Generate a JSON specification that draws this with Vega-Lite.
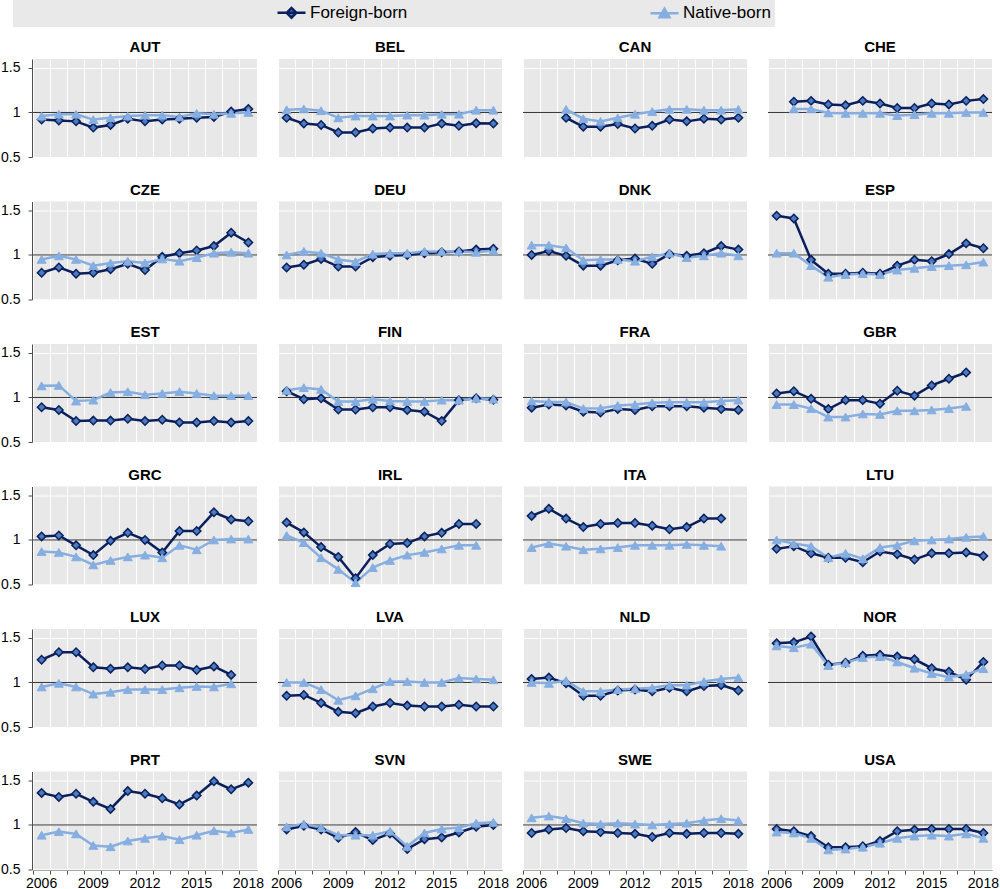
{
"$schema": "https://vega.github.io/schema/vega-lite/v6.json",
"padding": 0,
"background": "white",
"data": {"values": [
{"c":"AUT","y":2006,"g":"Foreign-born","v":0.92},{"c":"AUT","y":2007,"g":"Foreign-born","v":0.91},{"c":"AUT","y":2008,"g":"Foreign-born","v":0.90},{"c":"AUT","y":2009,"g":"Foreign-born","v":0.83},{"c":"AUT","y":2010,"g":"Foreign-born","v":0.86},{"c":"AUT","y":2011,"g":"Foreign-born","v":0.93},{"c":"AUT","y":2012,"g":"Foreign-born","v":0.90},{"c":"AUT","y":2013,"g":"Foreign-born","v":0.92},{"c":"AUT","y":2014,"g":"Foreign-born","v":0.93},{"c":"AUT","y":2015,"g":"Foreign-born","v":0.94},{"c":"AUT","y":2016,"g":"Foreign-born","v":0.95},{"c":"AUT","y":2017,"g":"Foreign-born","v":1.01},{"c":"AUT","y":2018,"g":"Foreign-born","v":1.04},
{"c":"AUT","y":2006,"g":"Native-born","v":0.96},{"c":"AUT","y":2007,"g":"Native-born","v":0.98},{"c":"AUT","y":2008,"g":"Native-born","v":0.98},{"c":"AUT","y":2009,"g":"Native-born","v":0.92},{"c":"AUT","y":2010,"g":"Native-born","v":0.94},{"c":"AUT","y":2011,"g":"Native-born","v":0.96},{"c":"AUT","y":2012,"g":"Native-born","v":0.97},{"c":"AUT","y":2013,"g":"Native-born","v":0.97},{"c":"AUT","y":2014,"g":"Native-born","v":0.95},{"c":"AUT","y":2015,"g":"Native-born","v":0.99},{"c":"AUT","y":2016,"g":"Native-born","v":0.98},{"c":"AUT","y":2017,"g":"Native-born","v":0.99},{"c":"AUT","y":2018,"g":"Native-born","v":1.00},
{"c":"BEL","y":2006,"g":"Foreign-born","v":0.94},{"c":"BEL","y":2007,"g":"Foreign-born","v":0.875},{"c":"BEL","y":2008,"g":"Foreign-born","v":0.86},{"c":"BEL","y":2009,"g":"Foreign-born","v":0.775},{"c":"BEL","y":2010,"g":"Foreign-born","v":0.775},{"c":"BEL","y":2011,"g":"Foreign-born","v":0.82},{"c":"BEL","y":2012,"g":"Foreign-born","v":0.83},{"c":"BEL","y":2013,"g":"Foreign-born","v":0.83},{"c":"BEL","y":2014,"g":"Foreign-born","v":0.83},{"c":"BEL","y":2015,"g":"Foreign-born","v":0.875},{"c":"BEL","y":2016,"g":"Foreign-born","v":0.85},{"c":"BEL","y":2017,"g":"Foreign-born","v":0.88},{"c":"BEL","y":2018,"g":"Foreign-born","v":0.875},
{"c":"BEL","y":2006,"g":"Native-born","v":1.03},{"c":"BEL","y":2007,"g":"Native-born","v":1.04},{"c":"BEL","y":2008,"g":"Native-born","v":1.02},{"c":"BEL","y":2009,"g":"Native-born","v":0.94},{"c":"BEL","y":2010,"g":"Native-born","v":0.96},{"c":"BEL","y":2011,"g":"Native-born","v":0.96},{"c":"BEL","y":2012,"g":"Native-born","v":0.96},{"c":"BEL","y":2013,"g":"Native-born","v":0.97},{"c":"BEL","y":2014,"g":"Native-born","v":0.97},{"c":"BEL","y":2015,"g":"Native-born","v":0.98},{"c":"BEL","y":2016,"g":"Native-born","v":0.98},{"c":"BEL","y":2017,"g":"Native-born","v":1.025},{"c":"BEL","y":2018,"g":"Native-born","v":1.025},
{"c":"CAN","y":2008,"g":"Foreign-born","v":0.94},{"c":"CAN","y":2009,"g":"Foreign-born","v":0.84},{"c":"CAN","y":2010,"g":"Foreign-born","v":0.84},{"c":"CAN","y":2011,"g":"Foreign-born","v":0.87},{"c":"CAN","y":2012,"g":"Foreign-born","v":0.82},{"c":"CAN","y":2013,"g":"Foreign-born","v":0.85},{"c":"CAN","y":2014,"g":"Foreign-born","v":0.92},{"c":"CAN","y":2015,"g":"Foreign-born","v":0.90},{"c":"CAN","y":2016,"g":"Foreign-born","v":0.93},{"c":"CAN","y":2017,"g":"Foreign-born","v":0.92},{"c":"CAN","y":2018,"g":"Foreign-born","v":0.94},
{"c":"CAN","y":2008,"g":"Native-born","v":1.035},{"c":"CAN","y":2009,"g":"Native-born","v":0.93},{"c":"CAN","y":2010,"g":"Native-born","v":0.90},{"c":"CAN","y":2011,"g":"Native-born","v":0.94},{"c":"CAN","y":2012,"g":"Native-born","v":0.98},{"c":"CAN","y":2013,"g":"Native-born","v":1.01},{"c":"CAN","y":2014,"g":"Native-born","v":1.035},{"c":"CAN","y":2015,"g":"Native-born","v":1.035},{"c":"CAN","y":2016,"g":"Native-born","v":1.025},{"c":"CAN","y":2017,"g":"Native-born","v":1.025},{"c":"CAN","y":2018,"g":"Native-born","v":1.035},
{"c":"CHE","y":2007,"g":"Foreign-born","v":1.12},{"c":"CHE","y":2008,"g":"Foreign-born","v":1.13},{"c":"CHE","y":2009,"g":"Foreign-born","v":1.09},{"c":"CHE","y":2010,"g":"Foreign-born","v":1.08},{"c":"CHE","y":2011,"g":"Foreign-born","v":1.13},{"c":"CHE","y":2012,"g":"Foreign-born","v":1.10},{"c":"CHE","y":2013,"g":"Foreign-born","v":1.05},{"c":"CHE","y":2014,"g":"Foreign-born","v":1.05},{"c":"CHE","y":2015,"g":"Foreign-born","v":1.10},{"c":"CHE","y":2016,"g":"Foreign-born","v":1.09},{"c":"CHE","y":2017,"g":"Foreign-born","v":1.13},{"c":"CHE","y":2018,"g":"Foreign-born","v":1.15},
{"c":"CHE","y":2007,"g":"Native-born","v":1.04},{"c":"CHE","y":2008,"g":"Native-born","v":1.04},{"c":"CHE","y":2009,"g":"Native-born","v":0.995},{"c":"CHE","y":2010,"g":"Native-born","v":0.99},{"c":"CHE","y":2011,"g":"Native-born","v":0.99},{"c":"CHE","y":2012,"g":"Native-born","v":0.99},{"c":"CHE","y":2013,"g":"Native-born","v":0.965},{"c":"CHE","y":2014,"g":"Native-born","v":0.975},{"c":"CHE","y":2015,"g":"Native-born","v":0.99},{"c":"CHE","y":2016,"g":"Native-born","v":0.99},{"c":"CHE","y":2017,"g":"Native-born","v":1.0},{"c":"CHE","y":2018,"g":"Native-born","v":1.0},
{"c":"CZE","y":2006,"g":"Foreign-born","v":0.80},{"c":"CZE","y":2007,"g":"Foreign-born","v":0.86},{"c":"CZE","y":2008,"g":"Foreign-born","v":0.79},{"c":"CZE","y":2009,"g":"Foreign-born","v":0.80},{"c":"CZE","y":2010,"g":"Foreign-born","v":0.84},{"c":"CZE","y":2011,"g":"Foreign-born","v":0.90},{"c":"CZE","y":2012,"g":"Foreign-born","v":0.83},{"c":"CZE","y":2013,"g":"Foreign-born","v":0.98},{"c":"CZE","y":2014,"g":"Foreign-born","v":1.02},{"c":"CZE","y":2015,"g":"Foreign-born","v":1.05},{"c":"CZE","y":2016,"g":"Foreign-born","v":1.10},{"c":"CZE","y":2017,"g":"Foreign-born","v":1.25},{"c":"CZE","y":2018,"g":"Foreign-born","v":1.14},
{"c":"CZE","y":2006,"g":"Native-born","v":0.95},{"c":"CZE","y":2007,"g":"Native-born","v":0.99},{"c":"CZE","y":2008,"g":"Native-born","v":0.95},{"c":"CZE","y":2009,"g":"Native-born","v":0.88},{"c":"CZE","y":2010,"g":"Native-born","v":0.91},{"c":"CZE","y":2011,"g":"Native-born","v":0.93},{"c":"CZE","y":2012,"g":"Native-born","v":0.91},{"c":"CZE","y":2013,"g":"Native-born","v":0.955},{"c":"CZE","y":2014,"g":"Native-born","v":0.93},{"c":"CZE","y":2015,"g":"Native-born","v":0.97},{"c":"CZE","y":2016,"g":"Native-born","v":1.02},{"c":"CZE","y":2017,"g":"Native-born","v":1.03},{"c":"CZE","y":2018,"g":"Native-born","v":1.02},
{"c":"DEU","y":2006,"g":"Foreign-born","v":0.86},{"c":"DEU","y":2007,"g":"Foreign-born","v":0.89},{"c":"DEU","y":2008,"g":"Foreign-born","v":0.955},{"c":"DEU","y":2009,"g":"Foreign-born","v":0.87},{"c":"DEU","y":2010,"g":"Foreign-born","v":0.87},{"c":"DEU","y":2011,"g":"Foreign-born","v":0.975},{"c":"DEU","y":2012,"g":"Foreign-born","v":0.99},{"c":"DEU","y":2013,"g":"Foreign-born","v":1.0},{"c":"DEU","y":2014,"g":"Foreign-born","v":1.02},{"c":"DEU","y":2015,"g":"Foreign-born","v":1.03},{"c":"DEU","y":2016,"g":"Foreign-born","v":1.04},{"c":"DEU","y":2017,"g":"Foreign-born","v":1.06},{"c":"DEU","y":2018,"g":"Foreign-born","v":1.07},
{"c":"DEU","y":2006,"g":"Native-born","v":1.0},{"c":"DEU","y":2007,"g":"Native-born","v":1.04},{"c":"DEU","y":2008,"g":"Native-born","v":1.02},{"c":"DEU","y":2009,"g":"Native-born","v":0.95},{"c":"DEU","y":2010,"g":"Native-born","v":0.925},{"c":"DEU","y":2011,"g":"Native-born","v":1.01},{"c":"DEU","y":2012,"g":"Native-born","v":1.02},{"c":"DEU","y":2013,"g":"Native-born","v":1.02},{"c":"DEU","y":2014,"g":"Native-born","v":1.04},{"c":"DEU","y":2015,"g":"Native-born","v":1.04},{"c":"DEU","y":2016,"g":"Native-born","v":1.04},{"c":"DEU","y":2017,"g":"Native-born","v":1.03},{"c":"DEU","y":2018,"g":"Native-born","v":1.05},
{"c":"DNK","y":2006,"g":"Foreign-born","v":1.0},{"c":"DNK","y":2007,"g":"Foreign-born","v":1.045},{"c":"DNK","y":2008,"g":"Foreign-born","v":0.99},{"c":"DNK","y":2009,"g":"Foreign-born","v":0.88},{"c":"DNK","y":2010,"g":"Foreign-born","v":0.88},{"c":"DNK","y":2011,"g":"Foreign-born","v":0.94},{"c":"DNK","y":2012,"g":"Foreign-born","v":0.96},{"c":"DNK","y":2013,"g":"Foreign-born","v":0.90},{"c":"DNK","y":2014,"g":"Foreign-born","v":1.01},{"c":"DNK","y":2015,"g":"Foreign-born","v":0.99},{"c":"DNK","y":2016,"g":"Foreign-born","v":1.02},{"c":"DNK","y":2017,"g":"Foreign-born","v":1.10},{"c":"DNK","y":2018,"g":"Foreign-born","v":1.06},
{"c":"DNK","y":2006,"g":"Native-born","v":1.11},{"c":"DNK","y":2007,"g":"Native-born","v":1.11},{"c":"DNK","y":2008,"g":"Native-born","v":1.08},{"c":"DNK","y":2009,"g":"Native-born","v":0.94},{"c":"DNK","y":2010,"g":"Native-born","v":0.95},{"c":"DNK","y":2011,"g":"Native-born","v":0.95},{"c":"DNK","y":2012,"g":"Native-born","v":0.93},{"c":"DNK","y":2013,"g":"Native-born","v":0.98},{"c":"DNK","y":2014,"g":"Native-born","v":1.02},{"c":"DNK","y":2015,"g":"Native-born","v":0.97},{"c":"DNK","y":2016,"g":"Native-born","v":0.99},{"c":"DNK","y":2017,"g":"Native-born","v":1.02},{"c":"DNK","y":2018,"g":"Native-born","v":0.99},
{"c":"ESP","y":2006,"g":"Foreign-born","v":1.44},{"c":"ESP","y":2007,"g":"Foreign-born","v":1.41},{"c":"ESP","y":2008,"g":"Foreign-born","v":0.945},{"c":"ESP","y":2009,"g":"Foreign-born","v":0.79},{"c":"ESP","y":2010,"g":"Foreign-born","v":0.79},{"c":"ESP","y":2011,"g":"Foreign-born","v":0.80},{"c":"ESP","y":2012,"g":"Foreign-born","v":0.79},{"c":"ESP","y":2013,"g":"Foreign-born","v":0.88},{"c":"ESP","y":2014,"g":"Foreign-born","v":0.945},{"c":"ESP","y":2015,"g":"Foreign-born","v":0.93},{"c":"ESP","y":2016,"g":"Foreign-born","v":1.01},{"c":"ESP","y":2017,"g":"Foreign-born","v":1.13},{"c":"ESP","y":2018,"g":"Foreign-born","v":1.075},
{"c":"ESP","y":2006,"g":"Native-born","v":1.02},{"c":"ESP","y":2007,"g":"Native-born","v":1.02},{"c":"ESP","y":2008,"g":"Native-born","v":0.88},{"c":"ESP","y":2009,"g":"Native-born","v":0.75},{"c":"ESP","y":2010,"g":"Native-born","v":0.78},{"c":"ESP","y":2011,"g":"Native-born","v":0.79},{"c":"ESP","y":2012,"g":"Native-born","v":0.78},{"c":"ESP","y":2013,"g":"Native-born","v":0.83},{"c":"ESP","y":2014,"g":"Native-born","v":0.85},{"c":"ESP","y":2015,"g":"Native-born","v":0.87},{"c":"ESP","y":2016,"g":"Native-born","v":0.88},{"c":"ESP","y":2017,"g":"Native-born","v":0.89},{"c":"ESP","y":2018,"g":"Native-born","v":0.92},
{"c":"EST","y":2006,"g":"Foreign-born","v":0.89},{"c":"EST","y":2007,"g":"Foreign-born","v":0.86},{"c":"EST","y":2008,"g":"Foreign-born","v":0.735},{"c":"EST","y":2009,"g":"Foreign-born","v":0.74},{"c":"EST","y":2010,"g":"Foreign-born","v":0.74},{"c":"EST","y":2011,"g":"Foreign-born","v":0.76},{"c":"EST","y":2012,"g":"Foreign-born","v":0.735},{"c":"EST","y":2013,"g":"Foreign-born","v":0.75},{"c":"EST","y":2014,"g":"Foreign-born","v":0.72},{"c":"EST","y":2015,"g":"Foreign-born","v":0.72},{"c":"EST","y":2016,"g":"Foreign-born","v":0.735},{"c":"EST","y":2017,"g":"Foreign-born","v":0.72},{"c":"EST","y":2018,"g":"Foreign-born","v":0.735},
{"c":"EST","y":2006,"g":"Native-born","v":1.13},{"c":"EST","y":2007,"g":"Native-born","v":1.135},{"c":"EST","y":2008,"g":"Native-born","v":0.96},{"c":"EST","y":2009,"g":"Native-born","v":0.97},{"c":"EST","y":2010,"g":"Native-born","v":1.055},{"c":"EST","y":2011,"g":"Native-born","v":1.065},{"c":"EST","y":2012,"g":"Native-born","v":1.03},{"c":"EST","y":2013,"g":"Native-born","v":1.045},{"c":"EST","y":2014,"g":"Native-born","v":1.065},{"c":"EST","y":2015,"g":"Native-born","v":1.045},{"c":"EST","y":2016,"g":"Native-born","v":1.02},{"c":"EST","y":2017,"g":"Native-born","v":1.02},{"c":"EST","y":2018,"g":"Native-born","v":1.02},
{"c":"FIN","y":2006,"g":"Foreign-born","v":1.07},{"c":"FIN","y":2007,"g":"Foreign-born","v":0.98},{"c":"FIN","y":2008,"g":"Foreign-born","v":0.99},{"c":"FIN","y":2009,"g":"Foreign-born","v":0.865},{"c":"FIN","y":2010,"g":"Foreign-born","v":0.865},{"c":"FIN","y":2011,"g":"Foreign-born","v":0.89},{"c":"FIN","y":2012,"g":"Foreign-born","v":0.89},{"c":"FIN","y":2013,"g":"Foreign-born","v":0.86},{"c":"FIN","y":2014,"g":"Foreign-born","v":0.84},{"c":"FIN","y":2015,"g":"Foreign-born","v":0.735},{"c":"FIN","y":2016,"g":"Foreign-born","v":0.97},{"c":"FIN","y":2017,"g":"Foreign-born","v":0.99},{"c":"FIN","y":2018,"g":"Foreign-born","v":0.975},
{"c":"FIN","y":2006,"g":"Native-born","v":1.08},{"c":"FIN","y":2007,"g":"Native-born","v":1.11},{"c":"FIN","y":2008,"g":"Native-born","v":1.09},{"c":"FIN","y":2009,"g":"Native-born","v":0.955},{"c":"FIN","y":2010,"g":"Native-born","v":0.955},{"c":"FIN","y":2011,"g":"Native-born","v":0.98},{"c":"FIN","y":2012,"g":"Native-born","v":0.96},{"c":"FIN","y":2013,"g":"Native-born","v":0.955},{"c":"FIN","y":2014,"g":"Native-born","v":0.955},{"c":"FIN","y":2015,"g":"Native-born","v":0.97},{"c":"FIN","y":2016,"g":"Native-born","v":0.97},{"c":"FIN","y":2017,"g":"Native-born","v":0.99},{"c":"FIN","y":2018,"g":"Native-born","v":0.98},
{"c":"FRA","y":2006,"g":"Foreign-born","v":0.885},{"c":"FRA","y":2007,"g":"Foreign-born","v":0.92},{"c":"FRA","y":2008,"g":"Foreign-born","v":0.91},{"c":"FRA","y":2009,"g":"Foreign-born","v":0.84},{"c":"FRA","y":2010,"g":"Foreign-born","v":0.83},{"c":"FRA","y":2011,"g":"Foreign-born","v":0.87},{"c":"FRA","y":2012,"g":"Foreign-born","v":0.86},{"c":"FRA","y":2013,"g":"Foreign-born","v":0.90},{"c":"FRA","y":2014,"g":"Foreign-born","v":0.90},{"c":"FRA","y":2015,"g":"Foreign-born","v":0.90},{"c":"FRA","y":2016,"g":"Foreign-born","v":0.885},{"c":"FRA","y":2017,"g":"Foreign-born","v":0.87},{"c":"FRA","y":2018,"g":"Foreign-born","v":0.86},
{"c":"FRA","y":2006,"g":"Native-born","v":0.96},{"c":"FRA","y":2007,"g":"Native-born","v":0.95},{"c":"FRA","y":2008,"g":"Native-born","v":0.95},{"c":"FRA","y":2009,"g":"Native-born","v":0.875},{"c":"FRA","y":2010,"g":"Native-born","v":0.88},{"c":"FRA","y":2011,"g":"Native-born","v":0.91},{"c":"FRA","y":2012,"g":"Native-born","v":0.92},{"c":"FRA","y":2013,"g":"Native-born","v":0.94},{"c":"FRA","y":2014,"g":"Native-born","v":0.945},{"c":"FRA","y":2015,"g":"Native-born","v":0.945},{"c":"FRA","y":2016,"g":"Native-born","v":0.945},{"c":"FRA","y":2017,"g":"Native-born","v":0.96},{"c":"FRA","y":2018,"g":"Native-born","v":0.97},
{"c":"GBR","y":2006,"g":"Foreign-born","v":1.045},{"c":"GBR","y":2007,"g":"Foreign-born","v":1.07},{"c":"GBR","y":2008,"g":"Foreign-born","v":0.985},{"c":"GBR","y":2009,"g":"Foreign-born","v":0.87},{"c":"GBR","y":2010,"g":"Foreign-born","v":0.97},{"c":"GBR","y":2011,"g":"Foreign-born","v":0.97},{"c":"GBR","y":2012,"g":"Foreign-born","v":0.93},{"c":"GBR","y":2013,"g":"Foreign-born","v":1.075},{"c":"GBR","y":2014,"g":"Foreign-born","v":1.02},{"c":"GBR","y":2015,"g":"Foreign-born","v":1.135},{"c":"GBR","y":2016,"g":"Foreign-born","v":1.21},{"c":"GBR","y":2017,"g":"Foreign-born","v":1.28},
{"c":"GBR","y":2006,"g":"Native-born","v":0.92},{"c":"GBR","y":2007,"g":"Native-born","v":0.92},{"c":"GBR","y":2008,"g":"Native-born","v":0.875},{"c":"GBR","y":2009,"g":"Native-born","v":0.78},{"c":"GBR","y":2010,"g":"Native-born","v":0.78},{"c":"GBR","y":2011,"g":"Native-born","v":0.815},{"c":"GBR","y":2012,"g":"Native-born","v":0.81},{"c":"GBR","y":2013,"g":"Native-born","v":0.85},{"c":"GBR","y":2014,"g":"Native-born","v":0.85},{"c":"GBR","y":2015,"g":"Native-born","v":0.86},{"c":"GBR","y":2016,"g":"Native-born","v":0.875},{"c":"GBR","y":2017,"g":"Native-born","v":0.90},
{"c":"GRC","y":2006,"g":"Foreign-born","v":1.04},{"c":"GRC","y":2007,"g":"Foreign-born","v":1.05},{"c":"GRC","y":2008,"g":"Foreign-born","v":0.94},{"c":"GRC","y":2009,"g":"Foreign-born","v":0.83},{"c":"GRC","y":2010,"g":"Foreign-born","v":0.99},{"c":"GRC","y":2011,"g":"Foreign-born","v":1.08},{"c":"GRC","y":2012,"g":"Foreign-born","v":1.0},{"c":"GRC","y":2013,"g":"Foreign-born","v":0.86},{"c":"GRC","y":2014,"g":"Foreign-born","v":1.10},{"c":"GRC","y":2015,"g":"Foreign-born","v":1.10},{"c":"GRC","y":2016,"g":"Foreign-born","v":1.31},{"c":"GRC","y":2017,"g":"Foreign-born","v":1.23},{"c":"GRC","y":2018,"g":"Foreign-born","v":1.21},
{"c":"GRC","y":2006,"g":"Native-born","v":0.87},{"c":"GRC","y":2007,"g":"Native-born","v":0.86},{"c":"GRC","y":2008,"g":"Native-born","v":0.81},{"c":"GRC","y":2009,"g":"Native-born","v":0.72},{"c":"GRC","y":2010,"g":"Native-born","v":0.77},{"c":"GRC","y":2011,"g":"Native-born","v":0.81},{"c":"GRC","y":2012,"g":"Native-born","v":0.83},{"c":"GRC","y":2013,"g":"Native-born","v":0.80},{"c":"GRC","y":2014,"g":"Native-born","v":0.94},{"c":"GRC","y":2015,"g":"Native-born","v":0.89},{"c":"GRC","y":2016,"g":"Native-born","v":1.0},{"c":"GRC","y":2017,"g":"Native-born","v":1.01},{"c":"GRC","y":2018,"g":"Native-born","v":1.01},
{"c":"IRL","y":2006,"g":"Foreign-born","v":1.195},{"c":"IRL","y":2007,"g":"Foreign-born","v":1.085},{"c":"IRL","y":2008,"g":"Foreign-born","v":0.92},{"c":"IRL","y":2009,"g":"Foreign-born","v":0.81},{"c":"IRL","y":2010,"g":"Foreign-born","v":0.57},{"c":"IRL","y":2011,"g":"Foreign-born","v":0.83},{"c":"IRL","y":2012,"g":"Foreign-born","v":0.955},{"c":"IRL","y":2013,"g":"Foreign-born","v":0.965},{"c":"IRL","y":2014,"g":"Foreign-born","v":1.04},{"c":"IRL","y":2015,"g":"Foreign-born","v":1.08},{"c":"IRL","y":2016,"g":"Foreign-born","v":1.18},{"c":"IRL","y":2017,"g":"Foreign-born","v":1.18},
{"c":"IRL","y":2006,"g":"Native-born","v":1.05},{"c":"IRL","y":2007,"g":"Native-born","v":0.97},{"c":"IRL","y":2008,"g":"Native-born","v":0.80},{"c":"IRL","y":2009,"g":"Native-born","v":0.67},{"c":"IRL","y":2010,"g":"Native-born","v":0.52},{"c":"IRL","y":2011,"g":"Native-born","v":0.69},{"c":"IRL","y":2012,"g":"Native-born","v":0.77},{"c":"IRL","y":2013,"g":"Native-born","v":0.83},{"c":"IRL","y":2014,"g":"Native-born","v":0.86},{"c":"IRL","y":2015,"g":"Native-born","v":0.90},{"c":"IRL","y":2016,"g":"Native-born","v":0.94},{"c":"IRL","y":2017,"g":"Native-born","v":0.94},
{"c":"ITA","y":2006,"g":"Foreign-born","v":1.27},{"c":"ITA","y":2007,"g":"Foreign-born","v":1.35},{"c":"ITA","y":2008,"g":"Foreign-born","v":1.24},{"c":"ITA","y":2009,"g":"Foreign-born","v":1.145},{"c":"ITA","y":2010,"g":"Foreign-born","v":1.18},{"c":"ITA","y":2011,"g":"Foreign-born","v":1.19},{"c":"ITA","y":2012,"g":"Foreign-born","v":1.19},{"c":"ITA","y":2013,"g":"Foreign-born","v":1.16},{"c":"ITA","y":2014,"g":"Foreign-born","v":1.12},{"c":"ITA","y":2015,"g":"Foreign-born","v":1.145},{"c":"ITA","y":2016,"g":"Foreign-born","v":1.24},{"c":"ITA","y":2017,"g":"Foreign-born","v":1.24},
{"c":"ITA","y":2006,"g":"Native-born","v":0.915},{"c":"ITA","y":2007,"g":"Native-born","v":0.96},{"c":"ITA","y":2008,"g":"Native-born","v":0.93},{"c":"ITA","y":2009,"g":"Native-born","v":0.89},{"c":"ITA","y":2010,"g":"Native-born","v":0.90},{"c":"ITA","y":2011,"g":"Native-born","v":0.915},{"c":"ITA","y":2012,"g":"Native-born","v":0.94},{"c":"ITA","y":2013,"g":"Native-born","v":0.94},{"c":"ITA","y":2014,"g":"Native-born","v":0.94},{"c":"ITA","y":2015,"g":"Native-born","v":0.95},{"c":"ITA","y":2016,"g":"Native-born","v":0.94},{"c":"ITA","y":2017,"g":"Native-born","v":0.93},
{"c":"LTU","y":2006,"g":"Foreign-born","v":0.90},{"c":"LTU","y":2007,"g":"Foreign-born","v":0.93},{"c":"LTU","y":2008,"g":"Foreign-born","v":0.85},{"c":"LTU","y":2009,"g":"Foreign-born","v":0.80},{"c":"LTU","y":2010,"g":"Foreign-born","v":0.80},{"c":"LTU","y":2011,"g":"Foreign-born","v":0.75},{"c":"LTU","y":2012,"g":"Foreign-born","v":0.87},{"c":"LTU","y":2013,"g":"Foreign-born","v":0.84},{"c":"LTU","y":2014,"g":"Foreign-born","v":0.78},{"c":"LTU","y":2015,"g":"Foreign-born","v":0.85},{"c":"LTU","y":2016,"g":"Foreign-born","v":0.85},{"c":"LTU","y":2017,"g":"Foreign-born","v":0.86},{"c":"LTU","y":2018,"g":"Foreign-born","v":0.82},
{"c":"LTU","y":2006,"g":"Native-born","v":1.0},{"c":"LTU","y":2007,"g":"Native-born","v":0.96},{"c":"LTU","y":2008,"g":"Native-born","v":0.93},{"c":"LTU","y":2009,"g":"Native-born","v":0.80},{"c":"LTU","y":2010,"g":"Native-born","v":0.85},{"c":"LTU","y":2011,"g":"Native-born","v":0.79},{"c":"LTU","y":2012,"g":"Native-born","v":0.915},{"c":"LTU","y":2013,"g":"Native-born","v":0.94},{"c":"LTU","y":2014,"g":"Native-born","v":0.99},{"c":"LTU","y":2015,"g":"Native-born","v":1.0},{"c":"LTU","y":2016,"g":"Native-born","v":1.01},{"c":"LTU","y":2017,"g":"Native-born","v":1.03},{"c":"LTU","y":2018,"g":"Native-born","v":1.04},
{"c":"LUX","y":2006,"g":"Foreign-born","v":1.255},{"c":"LUX","y":2007,"g":"Foreign-born","v":1.34},{"c":"LUX","y":2008,"g":"Foreign-born","v":1.34},{"c":"LUX","y":2009,"g":"Foreign-born","v":1.17},{"c":"LUX","y":2010,"g":"Foreign-born","v":1.155},{"c":"LUX","y":2011,"g":"Foreign-born","v":1.17},{"c":"LUX","y":2012,"g":"Foreign-born","v":1.15},{"c":"LUX","y":2013,"g":"Foreign-born","v":1.19},{"c":"LUX","y":2014,"g":"Foreign-born","v":1.19},{"c":"LUX","y":2015,"g":"Foreign-born","v":1.14},{"c":"LUX","y":2016,"g":"Foreign-born","v":1.18},{"c":"LUX","y":2017,"g":"Foreign-born","v":1.085},
{"c":"LUX","y":2006,"g":"Native-born","v":0.95},{"c":"LUX","y":2007,"g":"Native-born","v":0.99},{"c":"LUX","y":2008,"g":"Native-born","v":0.95},{"c":"LUX","y":2009,"g":"Native-born","v":0.87},{"c":"LUX","y":2010,"g":"Native-born","v":0.89},{"c":"LUX","y":2011,"g":"Native-born","v":0.92},{"c":"LUX","y":2012,"g":"Native-born","v":0.92},{"c":"LUX","y":2013,"g":"Native-born","v":0.92},{"c":"LUX","y":2014,"g":"Native-born","v":0.94},{"c":"LUX","y":2015,"g":"Native-born","v":0.955},{"c":"LUX","y":2016,"g":"Native-born","v":0.95},{"c":"LUX","y":2017,"g":"Native-born","v":0.985},
{"c":"LVA","y":2006,"g":"Foreign-born","v":0.85},{"c":"LVA","y":2007,"g":"Foreign-born","v":0.86},{"c":"LVA","y":2008,"g":"Foreign-born","v":0.77},{"c":"LVA","y":2009,"g":"Foreign-born","v":0.67},{"c":"LVA","y":2010,"g":"Foreign-born","v":0.655},{"c":"LVA","y":2011,"g":"Foreign-born","v":0.73},{"c":"LVA","y":2012,"g":"Foreign-born","v":0.77},{"c":"LVA","y":2013,"g":"Foreign-born","v":0.74},{"c":"LVA","y":2014,"g":"Foreign-born","v":0.73},{"c":"LVA","y":2015,"g":"Foreign-born","v":0.73},{"c":"LVA","y":2016,"g":"Foreign-born","v":0.75},{"c":"LVA","y":2017,"g":"Foreign-born","v":0.73},{"c":"LVA","y":2018,"g":"Foreign-born","v":0.73},
{"c":"LVA","y":2006,"g":"Native-born","v":1.0},{"c":"LVA","y":2007,"g":"Native-born","v":1.0},{"c":"LVA","y":2008,"g":"Native-born","v":0.92},{"c":"LVA","y":2009,"g":"Native-born","v":0.80},{"c":"LVA","y":2010,"g":"Native-born","v":0.85},{"c":"LVA","y":2011,"g":"Native-born","v":0.93},{"c":"LVA","y":2012,"g":"Native-born","v":1.01},{"c":"LVA","y":2013,"g":"Native-born","v":1.01},{"c":"LVA","y":2014,"g":"Native-born","v":1.0},{"c":"LVA","y":2015,"g":"Native-born","v":1.0},{"c":"LVA","y":2016,"g":"Native-born","v":1.05},{"c":"LVA","y":2017,"g":"Native-born","v":1.04},{"c":"LVA","y":2018,"g":"Native-born","v":1.03},
{"c":"NLD","y":2006,"g":"Foreign-born","v":1.04},{"c":"NLD","y":2007,"g":"Foreign-born","v":1.055},{"c":"NLD","y":2008,"g":"Foreign-born","v":0.99},{"c":"NLD","y":2009,"g":"Foreign-born","v":0.85},{"c":"NLD","y":2010,"g":"Foreign-born","v":0.85},{"c":"NLD","y":2011,"g":"Foreign-born","v":0.91},{"c":"NLD","y":2012,"g":"Foreign-born","v":0.92},{"c":"NLD","y":2013,"g":"Foreign-born","v":0.90},{"c":"NLD","y":2014,"g":"Foreign-born","v":0.94},{"c":"NLD","y":2015,"g":"Foreign-born","v":0.90},{"c":"NLD","y":2016,"g":"Foreign-born","v":0.96},{"c":"NLD","y":2017,"g":"Foreign-born","v":0.97},{"c":"NLD","y":2018,"g":"Foreign-born","v":0.91},
{"c":"NLD","y":2006,"g":"Native-born","v":1.0},{"c":"NLD","y":2007,"g":"Native-born","v":0.99},{"c":"NLD","y":2008,"g":"Native-born","v":1.02},{"c":"NLD","y":2009,"g":"Native-born","v":0.90},{"c":"NLD","y":2010,"g":"Native-born","v":0.90},{"c":"NLD","y":2011,"g":"Native-born","v":0.92},{"c":"NLD","y":2012,"g":"Native-born","v":0.93},{"c":"NLD","y":2013,"g":"Native-born","v":0.94},{"c":"NLD","y":2014,"g":"Native-born","v":0.97},{"c":"NLD","y":2015,"g":"Native-born","v":0.97},{"c":"NLD","y":2016,"g":"Native-born","v":1.01},{"c":"NLD","y":2017,"g":"Native-born","v":1.04},{"c":"NLD","y":2018,"g":"Native-born","v":1.055},
{"c":"NOR","y":2006,"g":"Foreign-born","v":1.44},{"c":"NOR","y":2007,"g":"Foreign-born","v":1.45},{"c":"NOR","y":2008,"g":"Foreign-born","v":1.515},{"c":"NOR","y":2009,"g":"Foreign-born","v":1.20},{"c":"NOR","y":2010,"g":"Foreign-born","v":1.22},{"c":"NOR","y":2011,"g":"Foreign-born","v":1.30},{"c":"NOR","y":2012,"g":"Foreign-born","v":1.31},{"c":"NOR","y":2013,"g":"Foreign-born","v":1.29},{"c":"NOR","y":2014,"g":"Foreign-born","v":1.26},{"c":"NOR","y":2015,"g":"Foreign-born","v":1.16},{"c":"NOR","y":2016,"g":"Foreign-born","v":1.12},{"c":"NOR","y":2017,"g":"Foreign-born","v":1.03},{"c":"NOR","y":2018,"g":"Foreign-born","v":1.23},
{"c":"NOR","y":2006,"g":"Native-born","v":1.41},{"c":"NOR","y":2007,"g":"Native-born","v":1.39},{"c":"NOR","y":2008,"g":"Native-born","v":1.43},{"c":"NOR","y":2009,"g":"Native-born","v":1.19},{"c":"NOR","y":2010,"g":"Native-born","v":1.22},{"c":"NOR","y":2011,"g":"Native-born","v":1.28},{"c":"NOR","y":2012,"g":"Native-born","v":1.29},{"c":"NOR","y":2013,"g":"Native-born","v":1.23},{"c":"NOR","y":2014,"g":"Native-born","v":1.16},{"c":"NOR","y":2015,"g":"Native-born","v":1.10},{"c":"NOR","y":2016,"g":"Native-born","v":1.06},{"c":"NOR","y":2017,"g":"Native-born","v":1.09},{"c":"NOR","y":2018,"g":"Native-born","v":1.155},
{"c":"PRT","y":2006,"g":"Foreign-born","v":1.36},{"c":"PRT","y":2007,"g":"Foreign-born","v":1.315},{"c":"PRT","y":2008,"g":"Foreign-born","v":1.35},{"c":"PRT","y":2009,"g":"Foreign-born","v":1.26},{"c":"PRT","y":2010,"g":"Foreign-born","v":1.18},{"c":"PRT","y":2011,"g":"Foreign-born","v":1.38},{"c":"PRT","y":2012,"g":"Foreign-born","v":1.35},{"c":"PRT","y":2013,"g":"Foreign-born","v":1.30},{"c":"PRT","y":2014,"g":"Foreign-born","v":1.23},{"c":"PRT","y":2015,"g":"Foreign-born","v":1.33},{"c":"PRT","y":2016,"g":"Foreign-born","v":1.49},{"c":"PRT","y":2017,"g":"Foreign-born","v":1.40},{"c":"PRT","y":2018,"g":"Foreign-born","v":1.475},
{"c":"PRT","y":2006,"g":"Native-born","v":0.885},{"c":"PRT","y":2007,"g":"Native-born","v":0.925},{"c":"PRT","y":2008,"g":"Native-born","v":0.90},{"c":"PRT","y":2009,"g":"Native-born","v":0.77},{"c":"PRT","y":2010,"g":"Native-born","v":0.755},{"c":"PRT","y":2011,"g":"Native-born","v":0.82},{"c":"PRT","y":2012,"g":"Native-born","v":0.85},{"c":"PRT","y":2013,"g":"Native-born","v":0.875},{"c":"PRT","y":2014,"g":"Native-born","v":0.835},{"c":"PRT","y":2015,"g":"Native-born","v":0.885},{"c":"PRT","y":2016,"g":"Native-born","v":0.935},{"c":"PRT","y":2017,"g":"Native-born","v":0.91},{"c":"PRT","y":2018,"g":"Native-born","v":0.95},
{"c":"SVN","y":2006,"g":"Foreign-born","v":0.95},{"c":"SVN","y":2007,"g":"Foreign-born","v":0.99},{"c":"SVN","y":2008,"g":"Foreign-born","v":0.95},{"c":"SVN","y":2009,"g":"Foreign-born","v":0.855},{"c":"SVN","y":2010,"g":"Foreign-born","v":0.92},{"c":"SVN","y":2011,"g":"Foreign-born","v":0.83},{"c":"SVN","y":2012,"g":"Foreign-born","v":0.905},{"c":"SVN","y":2013,"g":"Foreign-born","v":0.73},{"c":"SVN","y":2014,"g":"Foreign-born","v":0.84},{"c":"SVN","y":2015,"g":"Foreign-born","v":0.86},{"c":"SVN","y":2016,"g":"Foreign-born","v":0.915},{"c":"SVN","y":2017,"g":"Foreign-born","v":0.98},{"c":"SVN","y":2018,"g":"Foreign-born","v":1.0},
{"c":"SVN","y":2006,"g":"Native-born","v":0.98},{"c":"SVN","y":2007,"g":"Native-born","v":1.01},{"c":"SVN","y":2008,"g":"Native-born","v":0.97},{"c":"SVN","y":2009,"g":"Native-born","v":0.885},{"c":"SVN","y":2010,"g":"Native-born","v":0.885},{"c":"SVN","y":2011,"g":"Native-born","v":0.885},{"c":"SVN","y":2012,"g":"Native-born","v":0.93},{"c":"SVN","y":2013,"g":"Native-born","v":0.76},{"c":"SVN","y":2014,"g":"Native-born","v":0.91},{"c":"SVN","y":2015,"g":"Native-born","v":0.955},{"c":"SVN","y":2016,"g":"Native-born","v":0.97},{"c":"SVN","y":2017,"g":"Native-born","v":1.02},{"c":"SVN","y":2018,"g":"Native-born","v":1.03},
{"c":"SWE","y":2006,"g":"Foreign-born","v":0.91},{"c":"SWE","y":2007,"g":"Foreign-born","v":0.95},{"c":"SWE","y":2008,"g":"Foreign-born","v":0.965},{"c":"SWE","y":2009,"g":"Foreign-born","v":0.93},{"c":"SWE","y":2010,"g":"Foreign-born","v":0.92},{"c":"SWE","y":2011,"g":"Foreign-born","v":0.91},{"c":"SWE","y":2012,"g":"Foreign-born","v":0.90},{"c":"SWE","y":2013,"g":"Foreign-born","v":0.865},{"c":"SWE","y":2014,"g":"Foreign-born","v":0.91},{"c":"SWE","y":2015,"g":"Foreign-born","v":0.90},{"c":"SWE","y":2016,"g":"Foreign-born","v":0.91},{"c":"SWE","y":2017,"g":"Foreign-born","v":0.91},{"c":"SWE","y":2018,"g":"Foreign-born","v":0.90},
{"c":"SWE","y":2006,"g":"Native-born","v":1.08},{"c":"SWE","y":2007,"g":"Native-born","v":1.10},{"c":"SWE","y":2008,"g":"Native-born","v":1.07},{"c":"SWE","y":2009,"g":"Native-born","v":1.02},{"c":"SWE","y":2010,"g":"Native-born","v":1.01},{"c":"SWE","y":2011,"g":"Native-born","v":1.02},{"c":"SWE","y":2012,"g":"Native-born","v":1.01},{"c":"SWE","y":2013,"g":"Native-born","v":1.0},{"c":"SWE","y":2014,"g":"Native-born","v":1.01},{"c":"SWE","y":2015,"g":"Native-born","v":1.02},{"c":"SWE","y":2016,"g":"Native-born","v":1.05},{"c":"SWE","y":2017,"g":"Native-born","v":1.07},{"c":"SWE","y":2018,"g":"Native-born","v":1.05},
{"c":"USA","y":2006,"g":"Foreign-born","v":0.955},{"c":"USA","y":2007,"g":"Foreign-born","v":0.93},{"c":"USA","y":2008,"g":"Foreign-born","v":0.875},{"c":"USA","y":2009,"g":"Foreign-born","v":0.75},{"c":"USA","y":2010,"g":"Foreign-born","v":0.75},{"c":"USA","y":2011,"g":"Foreign-born","v":0.76},{"c":"USA","y":2012,"g":"Foreign-born","v":0.82},{"c":"USA","y":2013,"g":"Foreign-born","v":0.93},{"c":"USA","y":2014,"g":"Foreign-born","v":0.945},{"c":"USA","y":2015,"g":"Foreign-born","v":0.955},{"c":"USA","y":2016,"g":"Foreign-born","v":0.955},{"c":"USA","y":2017,"g":"Foreign-born","v":0.955},{"c":"USA","y":2018,"g":"Foreign-born","v":0.91},
{"c":"USA","y":2006,"g":"Native-born","v":0.92},{"c":"USA","y":2007,"g":"Native-born","v":0.91},{"c":"USA","y":2008,"g":"Native-born","v":0.85},{"c":"USA","y":2009,"g":"Native-born","v":0.72},{"c":"USA","y":2010,"g":"Native-born","v":0.73},{"c":"USA","y":2011,"g":"Native-born","v":0.75},{"c":"USA","y":2012,"g":"Native-born","v":0.795},{"c":"USA","y":2013,"g":"Native-born","v":0.85},{"c":"USA","y":2014,"g":"Native-born","v":0.875},{"c":"USA","y":2015,"g":"Native-born","v":0.885},{"c":"USA","y":2016,"g":"Native-born","v":0.875},{"c":"USA","y":2017,"g":"Native-born","v":0.90},{"c":"USA","y":2018,"g":"Native-born","v":0.85}
]},
"facet": {"field": "c", "type": "nominal", "title": null,
  "header": {"labelFontSize": 15, "labelFontWeight": "bold", "labelFont": "Liberation Sans", "labelPadding": 4, "labelColor": "#000000"}},
"columns": 4,
"spacing": {"row": 20.5, "column": 19},
"spec": {
  "width": 224,
  "height": 98,
  "layer": [
    {
      "transform": [{"aggregate": [{"op": "count", "as": "n"}], "groupby": ["c"]}],
      "mark": {"type": "rule", "color": "#333333", "strokeWidth": 1},
      "encoding": {"y": {"datum": 1, "type": "quantitative"}}
    },
    {
      "mark": {"type": "line", "strokeWidth": 2.5},
      "encoding": {
        "x": {"field": "y", "type": "ordinal", "bandPosition": 0.5,
          "scale": {"type": "band", "domain": [2006,2007,2008,2009,2010,2011,2012,2013,2014,2015,2016,2017,2018], "paddingInner": 0, "paddingOuter": 0},
          "axis": {"title": null, "bandPosition": 0, "grid": true, "gridColor": "#ffffff", "gridWidth": 1, "labelAngle": 0, "tickSize": 4, "labelPadding": 2,
            "labelExpr": "(datum.value - 2006) % 3 == 0 ? datum.label : ''"}},
        "y": {"field": "v", "type": "quantitative",
          "scale": {"domain": [0.5, 1.6], "nice": false, "zero": false},
          "axis": {"title": null, "values": [0.5, 1, 1.5], "format": "~g", "grid": true, "gridColor": "#ffffff", "tickSize": 4, "labelPadding": 8}},
        "color": {"field": "g", "type": "nominal",
          "scale": {"domain": ["Foreign-born", "Native-born"], "range": ["#0b1f5c", "#86aee0"]},
          "legend": {
            "orient": "none", "legendX": -20, "legendY": -59, "direction": "horizontal",
            "title": "\u00a0", "titleOrient": "left", "titleFontSize": 1, "titlePadding": 259,
            "fillColor": "#e9e9e9", "padding": 4,
            "symbolSize": 196, "labelOffset": 17, "columnPadding": 237,
            "labelFont": "Liberation Sans", "labelFontSize": 17, "labelColor": "#000000", "labelLimit": 600,
            "labelExpr": "datum.label == 'Native-born' ? pad(datum.label, 59, '\u00a0', 'left') + '\u200b' : datum.label",
            "encode": {"symbols": {"update": {
              "shape": {"signal": "datum.value == 'Foreign-born' ? 'M-1,0H3M0.3,0L1,-0.7L1.7,0L1,0.7Z' : 'M-1,0H3M0.3,0.55L1,-0.65L1.7,0.55Z'"},
              "fill": {"signal": "datum.value == 'Foreign-born' ? '#4a7bbf' : '#86aee0'"},
              "stroke": {"signal": "datum.value == 'Foreign-born' ? '#0b1f5c' : '#86aee0'"},
              "strokeWidth": {"value": 2.5},
              "opacity": {"value": 1}
            }}}
          }}
      }
    },
    {
      "transform": [{"filter": "datum.g == 'Foreign-born'"}],
      "mark": {"type": "point", "shape": "diamond", "filled": true, "size": 70, "fill": "#4a7bbf", "stroke": "#0b1f5c", "strokeWidth": 1.5, "opacity": 1},
      "encoding": {
        "x": {"field": "y", "type": "ordinal", "bandPosition": 0.5},
        "y": {"field": "v", "type": "quantitative"}
      }
    },
    {
      "transform": [{"filter": "datum.g == 'Native-born'"}],
      "mark": {"type": "point", "shape": "triangle-up", "filled": true, "size": 80, "fill": "#86aee0", "stroke": "#86aee0", "strokeWidth": 1, "opacity": 1},
      "encoding": {
        "x": {"field": "y", "type": "ordinal", "bandPosition": 0.5},
        "y": {"field": "v", "type": "quantitative"}
      }
    }
  ]
},
"config": {
  "view": {"fill": "#e8e8e8", "stroke": null},
  "axis": {"labelFont": "Liberation Sans", "labelFontSize": 14, "labelColor": "#000000", "domainColor": "#4d4d4d", "tickColor": "#4d4d4d", "domainWidth": 1}
}
}
